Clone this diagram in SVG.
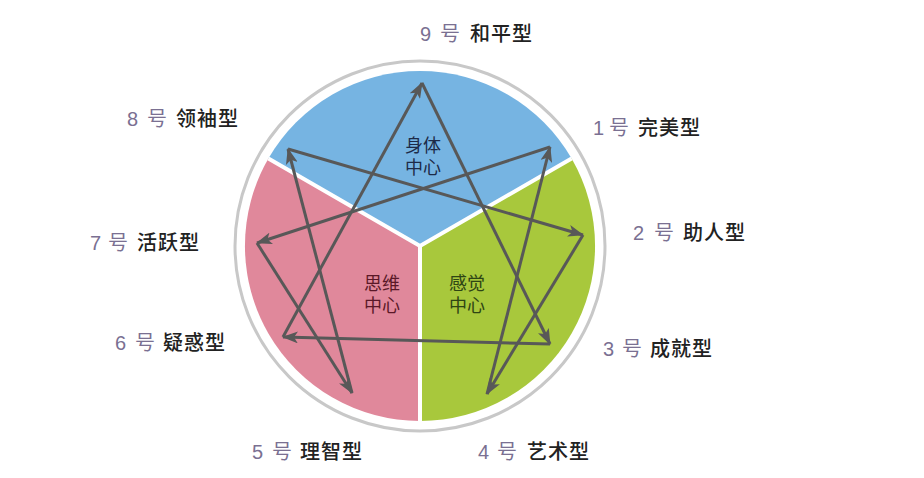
<svg xmlns="http://www.w3.org/2000/svg" width="924" height="478" viewBox="0 0 924 478">
<style>
.num{font-family:"Liberation Sans","Noto Sans CJK SC",sans-serif;font-size:20px;fill:#7a7092}
.hao{font-family:"Noto Sans CJK SC",sans-serif;font-size:20px;fill:#7a7092}
.name{font-family:"Noto Sans CJK SC",sans-serif;font-size:20px;fill:#222;letter-spacing:1px;font-weight:500}
.ctr{font-family:"Noto Sans CJK SC",sans-serif;font-size:18px;text-anchor:middle}
.edge{stroke:#585858;stroke-width:3;fill:none;marker-end:url(#ah)}
.div{stroke:#fff;stroke-width:4;fill:none}
</style>
<defs>
<marker id="ah" markerUnits="userSpaceOnUse" markerWidth="16" markerHeight="12" viewBox="0 0 16 12" refX="15" refY="6" orient="auto">
<path d="M0,0 L16,6 L0,12 L4,6 Z" fill="#585858"/>
</marker>
</defs>
<rect width="924" height="478" fill="#fff"/>
<circle id="ring" cx="420" cy="246" r="185" fill="none" stroke="#c8c8c8" stroke-width="3"/>
<g id="body-center">
<path d="M420,246 L268.4,158.5 A175,175 0 0 1 571.6,158.5 Z" fill="#76b4e2"/>
<text class="ctr" x="423" y="152" fill="#1d2b48">身体</text>
<text class="ctr" x="423" y="174" fill="#1d2b48">中心</text>
</g>
<g id="feeling-center">
<path d="M420,246 L571.6,158.5 A175,175 0 0 1 420,421 Z" fill="#a8c83c"/>
<text class="ctr" x="467" y="290" fill="#2e4514">感觉</text>
<text class="ctr" x="467" y="312" fill="#2e4514">中心</text>
</g>
<g id="thinking-center">
<path d="M420,246 L420,421 A175,175 0 0 1 268.4,158.5 Z" fill="#e0889b"/>
<text class="ctr" x="382" y="290" fill="#5a1828">思维</text>
<text class="ctr" x="382" y="312" fill="#5a1828">中心</text>
</g>
<g id="dividers">
<path class="div" d="M268.4,158.5 L420,246 L571.6,158.5 M420,246 L420,421"/>
</g>
<g id="connectors">
<line class="edge" x1="422" y1="83" x2="550" y2="344"/>
<line class="edge" x1="550" y1="344" x2="283" y2="337"/>
<line class="edge" x1="283" y1="337" x2="422" y2="83"/>
<line class="edge" x1="550" y1="147" x2="257" y2="243"/>
<line class="edge" x1="257" y1="243" x2="352" y2="393"/>
<line class="edge" x1="352" y1="393" x2="288" y2="149"/>
<line class="edge" x1="288" y1="149" x2="583" y2="235"/>
<line class="edge" x1="583" y1="235" x2="487" y2="394"/>
<line class="edge" x1="487" y1="394" x2="550" y2="147"/>
</g>
<g id="type9"><text class="num" x="420" y="41">9</text><text class="hao" x="440" y="41">号</text><text class="name" x="470" y="41">和平型</text></g>
<g id="type1"><text class="num" x="593" y="135">1</text><text class="hao" x="609" y="135">号</text><text class="name" x="638" y="135">完美型</text></g>
<g id="type2"><text class="num" x="633" y="240">2</text><text class="hao" x="654" y="240">号</text><text class="name" x="683" y="240">助人型</text></g>
<g id="type3"><text class="num" x="603" y="356">3</text><text class="hao" x="622" y="356">号</text><text class="name" x="650" y="356">成就型</text></g>
<g id="type4"><text class="num" x="478" y="459">4</text><text class="hao" x="497" y="459">号</text><text class="name" x="527" y="459">艺术型</text></g>
<g id="type5"><text class="num" x="252" y="459">5</text><text class="hao" x="272" y="459">号</text><text class="name" x="300" y="459">理智型</text></g>
<g id="type6"><text class="num" x="115" y="350">6</text><text class="hao" x="135" y="350">号</text><text class="name" x="163" y="350">疑惑型</text></g>
<g id="type7"><text class="num" x="90" y="250">7</text><text class="hao" x="108" y="250">号</text><text class="name" x="137" y="250">活跃型</text></g>
<g id="type8"><text class="num" x="127" y="126">8</text><text class="hao" x="147" y="126">号</text><text class="name" x="176" y="126">领袖型</text></g>
</svg>
